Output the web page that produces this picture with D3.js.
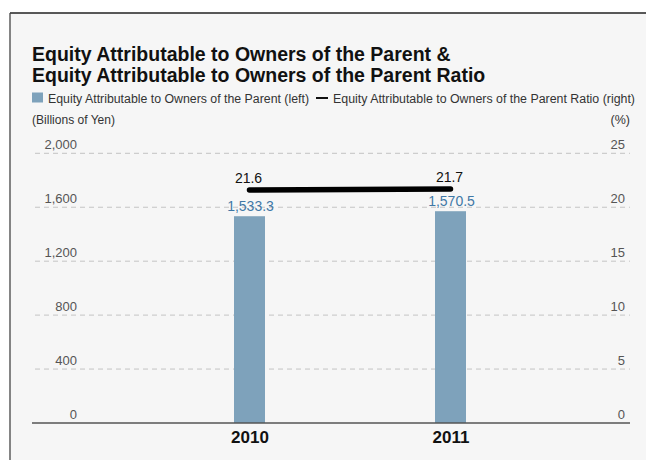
<!DOCTYPE html>
<html>
<head>
<meta charset="utf-8">
<script src="https://cdn.jsdelivr.net/npm/d3@7"></script>
<style>
  html, body { margin: 0; padding: 0; background: #ffffff; }
  svg { display: block; font-family: "Liberation Sans", Arial, Helvetica, sans-serif; }
</style>
</head>
<body>
<svg id="chart" width="646" height="460"></svg>
<script>
// ---- data ----
const years = ["2010", "2011"];
const equityValues = [1533.3, 1570.5];          // Billions of Yen (left axis)
const ratioValues = [21.6, 21.7];                // % (right axis)
const equityLabels = ["1,533.3", "1,570.5"];
const ratioLabels = ["21.6", "21.7"];
const leftTicks = [0, 400, 800, 1200, 1600, 2000];
const rightTicks = [0, 5, 10, 15, 20, 25];
const titleLines = [
  "Equity Attributable to Owners of the Parent &",
  "Equity Attributable to Owners of the Parent Ratio"
];
const legendBarText = "Equity Attributable to Owners of the Parent (left)";
const legendLineText = "Equity Attributable to Owners of the Parent Ratio (right)";

// ---- layout ----
const svg = d3.select("#chart");
const plotLeft = 32, plotRight = 630, plotTop = 153.3, plotBottom = 423;

// frame/background
svg.append("rect").attr("x", 10).attr("y", 13).attr("width", 640).attr("height", 452)
  .attr("fill", "#f6f6f6");
svg.append("line").attr("x1", 10).attr("x2", 650).attr("y1", 13).attr("y2", 13)
  .attr("stroke", "#222").attr("stroke-width", 1.3);
svg.append("line").attr("x1", 10).attr("x2", 10).attr("y1", 13).attr("y2", 465)
  .attr("stroke", "#444").attr("stroke-width", 1.3);

// title
svg.selectAll("text.title").data(titleLines).join("text")
  .attr("class", "title")
  .attr("x", 32).attr("y", (d, i) => 61 + i * 21)
  .attr("font-size", 19.5).attr("font-weight", "bold").attr("fill", "#111")
  .text(d => d);

// legend
svg.append("rect").attr("x", 32).attr("y", 92.5).attr("width", 11).attr("height", 10)
  .attr("fill", "#7ea2bb");
svg.append("text").attr("x", 48).attr("y", 102.5).attr("font-size", 12.5).attr("fill", "#333")
  .attr("textLength", 261).attr("lengthAdjust", "spacingAndGlyphs").text(legendBarText);
svg.append("line").attr("x1", 316).attr("x2", 328).attr("y1", 98).attr("y2", 98)
  .attr("stroke", "#111").attr("stroke-width", 2);
svg.append("text").attr("x", 333).attr("y", 102.5).attr("font-size", 12.5).attr("fill", "#333")
  .attr("textLength", 302).attr("lengthAdjust", "spacingAndGlyphs").text(legendLineText);

// unit labels
svg.append("text").attr("x", 32).attr("y", 124).attr("font-size", 12.5).attr("fill", "#333")
  .attr("textLength", 83).attr("lengthAdjust", "spacingAndGlyphs").text("(Billions of Yen)");
svg.append("text").attr("x", 630).attr("y", 124).attr("font-size", 12.5).attr("fill", "#333")
  .attr("text-anchor", "end").text("(%)");

// scales
const yLeft = d3.scaleLinear().domain([0, 2000]).range([plotBottom, plotTop]);
const yRight = d3.scaleLinear().domain([0, 25]).range([plotBottom, plotTop]);
const x = d3.scalePoint().domain(years).range([149, 551]).padding(0.5);

// gridlines
svg.append("g").selectAll("line").data(leftTicks.filter(d => d > 0)).join("line")
  .attr("x1", 35).attr("x2", 630)
  .attr("y1", d => yLeft(d)).attr("y2", d => yLeft(d))
  .attr("stroke", "#c4c4c4").attr("stroke-width", 1).attr("stroke-dasharray", "5,4");

// left tick labels
const leftAxis = d3.axisLeft(yLeft).tickValues(leftTicks).tickSize(0).tickFormat(d3.format(","));
const gL = svg.append("g").attr("transform", "translate(77,-5)").call(leftAxis);
gL.select(".domain").remove();
gL.selectAll("text").attr("x", 0).attr("dy", 0).attr("font-size", 13)
  .attr("font-family", "Liberation Sans, Arial, sans-serif").attr("fill", "#555");

// right tick labels
const rightAxis = d3.axisLeft(yRight).tickValues(rightTicks).tickSize(0);
const gR = svg.append("g").attr("transform", "translate(625,-5)").call(rightAxis);
gR.select(".domain").remove();
gR.selectAll("text").attr("x", 0).attr("dy", 0).attr("font-size", 13)
  .attr("font-family", "Liberation Sans, Arial, sans-serif").attr("fill", "#555");

// bars
const barW = 31;
svg.append("g").selectAll("rect").data(years).join("rect")
  .attr("x", d => x(d) - barW / 2)
  .attr("y", (d, i) => yLeft(equityValues[i]))
  .attr("width", barW)
  .attr("height", (d, i) => plotBottom - yLeft(equityValues[i]))
  .attr("fill", "#7ea2bb");

// bar value labels
svg.append("g").selectAll("text").data(years).join("text")
  .attr("x", d => x(d) + 1)
  .attr("y", (d, i) => yLeft(equityValues[i]) - 5.5)
  .attr("text-anchor", "middle").attr("font-size", 14).attr("fill", "#3f78a6")
  .text((d, i) => equityLabels[i]);

// x axis line
svg.append("line").attr("x1", plotLeft).attr("x2", plotRight)
  .attr("y1", plotBottom).attr("y2", plotBottom)
  .attr("stroke", "#555").attr("stroke-width", 1.5);

// x labels
const xAxis = d3.axisBottom(x).tickSize(0);
const gX = svg.append("g").attr("transform", `translate(0,${plotBottom})`).call(xAxis);
gX.select(".domain").remove();
gX.selectAll("text").attr("y", 20).attr("dy", 0).attr("font-size", 17).attr("font-weight", "bold")
  .attr("font-family", "Liberation Sans, Arial, sans-serif").attr("fill", "#111");

// ratio line
const line = d3.line().x((d, i) => x(years[i])).y(d => yRight(d));
svg.append("path").datum(ratioValues).attr("d", line)
  .attr("fill", "none").attr("stroke", "#000").attr("stroke-width", 5.5)
  .attr("stroke-linecap", "round");

// ratio labels
svg.append("g").selectAll("text").data(years).join("text")
  .attr("x", d => x(d) - 1)
  .attr("y", (d, i) => yRight(ratioValues[i]) - 7)
  .attr("text-anchor", "middle").attr("font-size", 14).attr("fill", "#111")
  .text((d, i) => ratioLabels[i]);
</script>
</body>
</html>
